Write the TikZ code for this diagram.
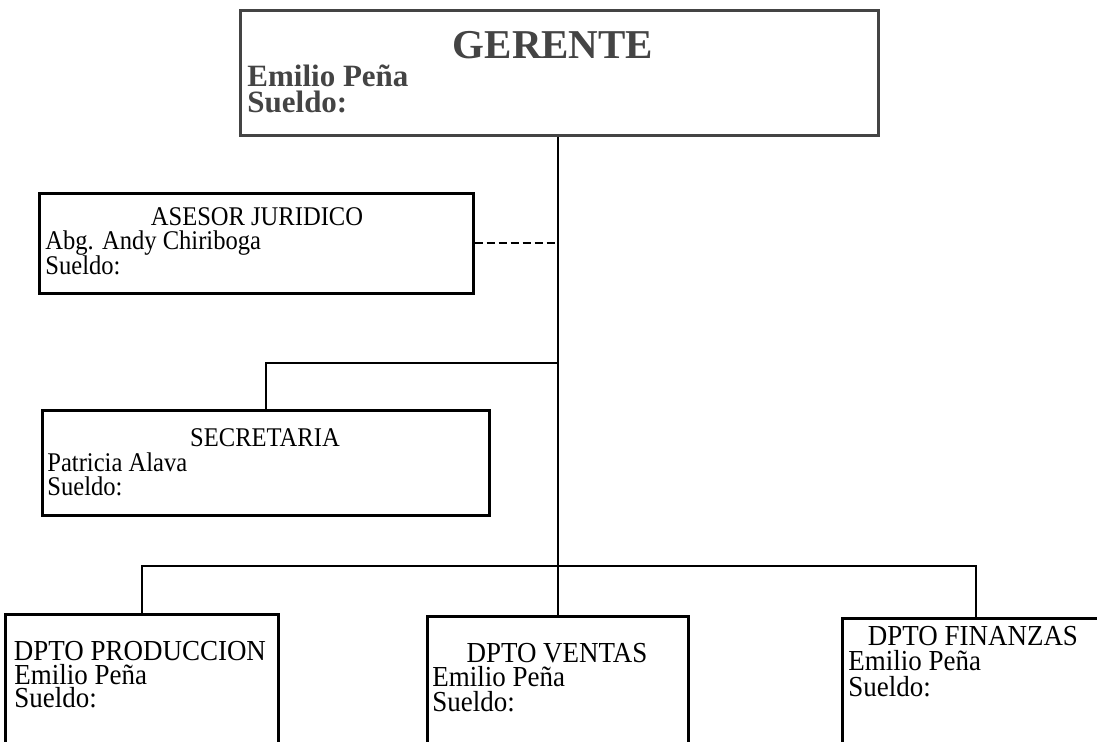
\documentclass[tikz,border=0pt]{standalone}
\usepackage{fontspec}
\setmainfont{Liberation Serif}
\newfontfamily\labfont[FakeStretch=0.91]{Liberation Serif}
\newfontfamily\blabfont[FakeStretch=0.93]{Liberation Serif}
\newfontfamily\boldfont{Liberation Serif}
\definecolor{gerc}{HTML}{444444}
\tikzset{
  box/.style={draw=black, line width=1.5pt, rectangle, inner sep=0pt},
  link/.style={draw=black, line width=1pt},
  mid/.style={inner sep=0pt, text height=8.5pt, text depth=2.5pt, font=\labfont\fontsize{13.5}{13.5}\selectfont},
  ttl/.style={mid, anchor=base},
  txt/.style={mid, anchor=base west},
  bot/.style={inner sep=0pt, text height=8.5pt, text depth=2.5pt, font=\blabfont\fontsize{14.5}{14.5}\selectfont},
  bttl/.style={bot, anchor=base},
  btxt/.style={bot, anchor=base west},
  gtxt/.style={inner sep=0pt, anchor=base west, text=gerc, text height=10pt, text depth=2.5pt, font=\boldfont\bfseries\fontsize{15.5}{15.5}\selectfont},
}
\begin{document}
\begin{tikzpicture}[x=0.5pt,y=-0.5pt]
\useasboundingbox (0,0) rectangle (1097,741);
\clip (0,0) rectangle (1097,741);
% boxes
\node[box, draw=gerc, minimum width=319pt, minimum height=62.5pt] (ger) at (559,72.5) {};
\node[box, minimum width=217pt, minimum height=50pt] (ase) at (256,243) {};
\node[box, minimum width=223.5pt, minimum height=52.5pt] (sec) at (265.5,462.5) {};
\node[box, minimum width=136.5pt, minimum height=73pt] (pro) at (141.5,687) {};
\node[box, minimum width=130.5pt, minimum height=72pt] (ven) at (557.5,688) {};
\node[box, minimum width=134pt, minimum height=71pt] (fin) at (976,689) {};
% connectors
\coordinate (sj) at (558,363);
\coordinate (bj) at (558,566);
\draw[link] (ger.south -| ven.north) -- (ven.north);
\draw[link, dashed, dash pattern=on 4pt off 2pt] (ase.east) -- (ase.east -| ven.north);
\draw[link] (sj) -| (sec.north);
\draw[link] (pro.north) |- (bj) -| (fin.north);
% texts
\node[inner sep=0pt, anchor=base, text=gerc, text depth=0pt, font=\boldfont\bfseries\fontsize{20.5}{20.5}\selectfont] (t1) at (553,58) {GERENTE};
\node[gtxt] (t2) at (247,86) {Emilio Peña};
\node[gtxt] (t3) at (247,112) {Sueldo:};
\node[ttl] (a1) at (257,225) {ASESOR JURIDICO};
\node[txt] (a2) at (45,249) {Abg. Andy Chiriboga};
\node[txt] (a3) at (45,274) {Sueldo:};
\node[ttl] (s1) at (265,446) {SECRETARIA};
\node[txt] (s2) at (47,471) {Patricia Alava};
\node[txt] (s3) at (47,495) {Sueldo:};
\node[bttl] (p1) at (140,660) {DPTO PRODUCCION};
\node[btxt] (p2) at (14,684) {Emilio Peña};
\node[btxt] (p3) at (14,707) {Sueldo:};
\node[bttl] (v1) at (557,662) {DPTO VENTAS};
\node[btxt] (v2) at (432,686) {Emilio Peña};
\node[btxt] (v3) at (432,711) {Sueldo:};
\node[bttl] (f1) at (973,645) {DPTO FINANZAS};
\node[btxt] (f2) at (848,670) {Emilio Peña};
\node[btxt] (f3) at (848,696) {Sueldo:};
\end{tikzpicture}
\end{document}
